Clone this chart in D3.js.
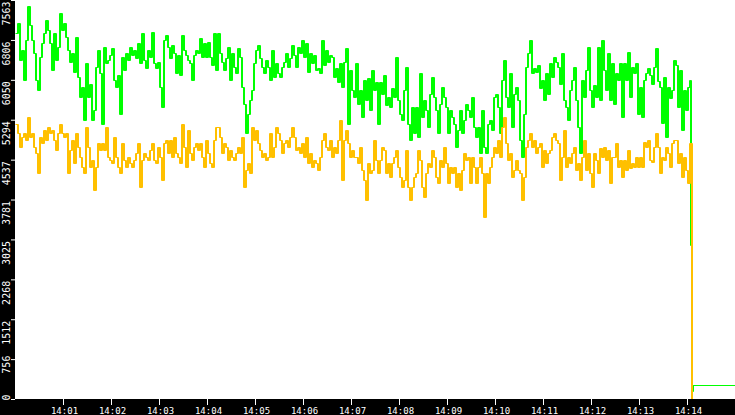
<!DOCTYPE html>
<html>
<head>
<meta charset="utf-8">
<script src="https://cdn.jsdelivr.net/npm/d3@7"></script>
<style>
  html, body { margin: 0; padding: 0; background: #fff; }
  svg { display: block; }
</style>
</head>
<body>
<div id="chart"></div>
<script>
const canvasWidth = 735;
const canvasHeight = 415;
const margin = { left: 15, bottom: 16 };
const plotBottom = canvasHeight - margin.bottom;

// samples every 2.5 s from 14:00:00
const stepSeconds = 2.5;

const greenValues = [
  6930,7120,6430,6620,6050,6800,7440,7090,6800,6550,6050,5860,6490,6740,6930,7180,7000,6740,6240,6930,
  6430,6680,7310,7000,7120,6870,6620,6390,6550,6200,6870,6110,5730,5920,5290,6360,5730,5980,5290,5480,
  6300,6620,6170,5220,6680,6360,6430,6520,6650,6050,5920,6140,5410,6490,6240,6550,6430,6680,6520,6620,
  6460,6740,6360,6930,6430,6270,6620,6490,6960,6360,
  6270,6390,5920,5540,6800,6900,6680,6460,6710,6550,6170,6520,6140,6900,6620,6520,6430,6360,6050,6520,
  6620,6550,6840,6490,6740,6490,6770,6490,6330,6930,6240,6930,6550,6390,6240,6460,6680,6050,6550,6300,
  6170,6650,6490,5920,5600,5040,5410,5670,5860,6360,6620,6710,6460,6300,6170,6430,6300,6050,6620,6110,
  6360,6170,6110,6300,6390,6550,6300,6460,6710,6520,
  6300,6680,6550,6800,6490,6740,6200,6550,6360,6520,6240,6270,6170,6800,6330,6620,6390,6520,6490,6110,
  6270,6010,6360,5920,6390,6650,5220,6240,5860,5730,6360,5600,5860,5350,6050,5670,6080,5480,6240,5860,
  6010,5220,6010,5790,6140,5570,5730,5540,5890,5730,6490,5670,5410,5290,5860,6300,5220,4910,5540,5040,
  5540,4970,6170,5350,5670,5480,5160,5790,6110,5730,
  5480,5040,5600,5920,5730,5540,5040,5480,5350,5220,4780,5100,5480,5040,5290,5600,5480,5350,5730,5160,
  4970,5160,4660,5480,4780,4660,5220,5290,5100,5730,5790,5540,5040,6050,6430,5730,5540,6170,5160,5790,
  5920,5670,4910,4590,5410,6300,6550,6800,6170,6270,6200,6330,5890,6050,5670,6170,5790,6360,6110,6490,
  6390,6300,5980,6550,5670,5540,5290,5860,6050,6300,
  5670,5160,4660,6050,5730,6240,6680,5860,5540,5950,5730,6680,5670,6800,6240,5860,6550,5670,6360,5600,
  6170,6050,6360,5350,6360,6050,6580,5730,6300,6170,6360,5410,5920,5350,6050,6170,6270,6140,5980,6300,
  6650,6020,5920,5230,6110,4970,5920,5700,5860,6430,6330,5540,6240,5100,5860,5480,5920,6050
];

const orangeValues = [
  5220,5040,4780,4970,5040,4910,5350,4970,5040,4780,4660,4280,4970,4850,5100,4910,5160,5040,5100,4910,
  4720,5040,5220,5040,4970,5040,4280,4720,4910,4470,5040,4780,4590,4400,4280,5160,4780,4400,4530,3960,
  4400,4850,4720,4850,4720,5160,4590,4530,4470,4970,4590,4400,4280,4850,4530,4400,4590,4470,4400,4530,
  4660,4850,4020,4530,4660,4590,4530,4720,4850,4530,
  4470,4780,4590,4150,4850,4910,4660,4910,4590,4970,4660,4590,4470,5220,4780,4400,5100,4660,4530,4780,
  4850,4720,4850,4590,4400,4910,4660,4470,4400,4910,5160,5160,4970,4660,4850,4780,4530,4720,4590,4530,
  4660,4780,4660,4970,4020,4340,4470,4280,5160,4910,5100,4850,4720,4590,4660,4530,4590,5040,4590,4780,
  5160,5040,4910,4660,4850,4910,4780,4970,5160,4970,
  4720,4780,4660,4850,4590,4970,4470,4660,4400,4530,4470,4340,4590,4910,5040,4780,4720,4910,4590,4780,
  4660,4910,5290,4150,4910,5100,4850,4590,4720,4590,4590,4470,4780,4340,4150,3770,4470,4280,4340,4910,
  4530,4280,4530,4780,4720,4280,4470,4210,4470,4590,4720,4400,4210,4020,4150,4720,4020,3770,4020,4210,
  4280,4720,4530,4020,3830,4280,4470,4400,4720,4590,
  4210,4090,4530,4400,4780,4470,4090,4400,4280,4400,4020,4280,3960,4340,4660,4530,4590,4090,4590,4400,
  4090,4400,4590,4280,3450,4280,4090,4400,4590,4780,4660,4910,4590,5160,5350,4850,4530,4660,4210,4340,
  4530,4340,4280,3770,4210,4780,4910,5040,4780,4910,4660,4780,4850,4400,4720,4470,4660,4720,4970,5040,
  4910,4850,4150,4590,5100,4400,4590,4470,4660,4780,
  4340,4470,4150,4590,4910,4340,4660,4280,4020,4660,4530,4280,4750,4590,4780,4530,4720,4090,4590,4590,
  4850,4400,4530,4210,4530,4340,4720,4370,4470,4400,4590,4400,4590,4400,4880,4780,4910,4530,4500,4780,
  5040,4780,4280,4590,4530,4780,4660,4400,4850,4910,4910,4470,4660,4210,4590,4340,4090,4850
];

// the feed drops out just after 14:14
const greenTailSeconds = [843.75, 845, 846.25, 900];
const greenTailValues = [2920, 150, 265, 265];
const orangeTailSeconds = [845, 900];
const orangeTailValues = [0, 0];

const yTickValues = [0, 756, 1512, 2268, 3025, 3781, 4537, 5294, 6050, 6806, 7563];
const xTickLabels = ["14:01","14:02","14:03","14:04","14:05","14:06","14:07",
                     "14:08","14:09","14:10","14:11","14:12","14:13","14:14"];

const startTime = new Date(2020, 0, 1, 14, 0, 0);
const endTime = new Date(2020, 0, 1, 14, 15, 0);
const atSeconds = s => new Date(startTime.getTime() + s * 1000);
const parseHM = d3.timeParse("%H:%M");
const xTickTimes = xTickLabels.map(l => {
  const p = parseHM(l);
  return new Date(2020, 0, 1, p.getHours(), p.getMinutes(), 0);
});

const greenData = greenValues.map((v, i) => ({ t: atSeconds(i * stepSeconds), v }))
  .concat(greenTailSeconds.map((s, j) => ({ t: atSeconds(s), v: greenTailValues[j] })));
const orangeData = orangeValues.map((v, i) => ({ t: atSeconds(i * stepSeconds), v }))
  .concat(orangeTailSeconds.map((s, j) => ({ t: atSeconds(s), v: orangeTailValues[j] })));

const svg = d3.select("#chart")
  .append("svg")
  .attr("width", canvasWidth)
  .attr("height", canvasHeight);

const xScale = d3.scaleTime().domain([startTime, endTime]).range([margin.left, canvasWidth]);
const yScale = d3.scaleLinear().domain([0, 7563]).range([plotBottom, 0]);

const line = d3.line()
  .curve(d3.curveStepAfter)
  .x(d => xScale(d.t))
  .y(d => Math.round(yScale(d.v)) + 0.5);

// each sample spans two pixel columns, so the 1px step line is laid down twice
const drawSeries = (data, colour) => {
  [0.5, 1.5].forEach(dx => {
    svg.append("path")
      .datum(data)
      .attr("transform", `translate(${dx},0)`)
      .attr("d", line)
      .attr("fill", "none")
      .attr("stroke", colour)
      .attr("stroke-width", 1);
  });
};

drawSeries(greenData, "#00ff00");
drawSeries(orangeData, "#ffc000");

// black axis strips
svg.append("rect")
  .attr("x", 0).attr("y", 0)
  .attr("width", margin.left).attr("height", canvasHeight)
  .attr("fill", "#000");
svg.append("rect")
  .attr("x", 0).attr("y", plotBottom)
  .attr("width", canvasWidth).attr("height", margin.bottom)
  .attr("fill", "#000");

const xAxis = d3.axisBottom(xScale)
  .tickValues(xTickTimes)
  .tickFormat(d3.timeFormat("%H:%M"))
  .tickSize(6)
  .tickPadding(3);

const gx = svg.append("g")
  .attr("transform", `translate(0,${plotBottom})`)
  .call(xAxis);
gx.select(".domain").remove();
gx.selectAll("line").attr("stroke", "#fff");
gx.selectAll("text")
  .attr("fill", "#fff")
  .attr("x", 1)
  .style("font-family", "'DejaVu Sans Mono', monospace")
  .style("font-size", "9px");

const yAxis = d3.axisLeft(yScale)
  .tickValues(yTickValues)
  .tickFormat(d => String(d))
  .tickSize(4);

const gy = svg.append("g")
  .attr("transform", `translate(${margin.left},0)`)
  .call(yAxis);
gy.select(".domain").remove();
gy.selectAll("line").attr("stroke", "#fff");
gy.selectAll("text")
  .attr("fill", "#fff")
  .attr("text-anchor", "middle")
  .attr("transform", "rotate(-90)")
  .attr("dy", 0)
  .attr("y", -5)
  .attr("x", d => {
    const tickY = yScale(d);
    const label = String(d);
    const c = Math.min(Math.max(tickY + (label.length === 4 ? 13 : 5), 11), 397);
    return -(c - tickY);
  })
  .style("font-family", "'DejaVu Sans Mono', monospace")
  .style("font-size", "10px");
</script>
</body>
</html>
